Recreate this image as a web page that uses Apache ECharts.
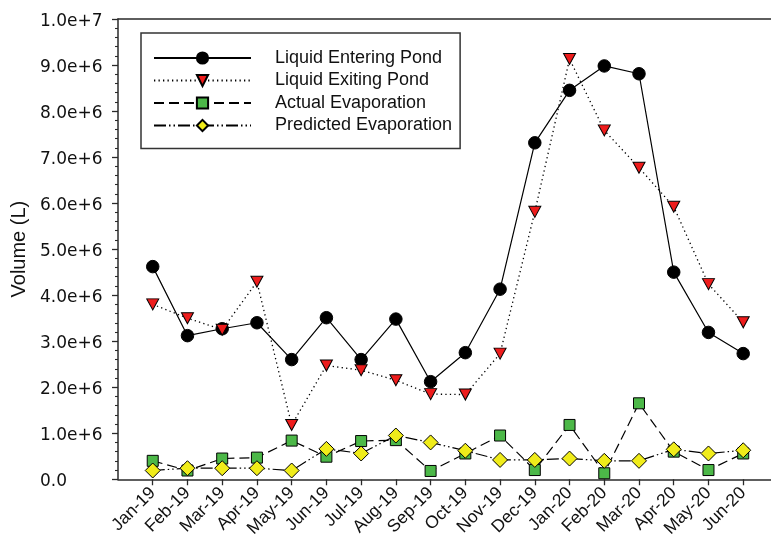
<!DOCTYPE html>
<html>
<head>
<meta charset="utf-8">
<script src="https://cdn.jsdelivr.net/npm/echarts@6/dist/echarts.min.js"></script>
<style>
  html, body { margin: 0; padding: 0; background: #fff; }
  #chart { width: 771px; height: 540px; }
</style>
</head>
<body>
<div id="chart"></div>
<script>
// Monthly pond volumes, litres
const months = ['Jan-19','Feb-19','Mar-19','Apr-19','May-19','Jun-19','Jul-19','Aug-19','Sep-19',
                'Oct-19','Nov-19','Dec-19','Jan-20','Feb-20','Mar-20','Apr-20','May-20','Jun-20'];
const liquidEntering = [4.62e6, 3.12e6, 3.27e6, 3.40e6, 2.60e6, 3.51e6, 2.60e6, 3.48e6, 2.12e6,
                        2.75e6, 4.13e6, 7.31e6, 8.45e6, 8.98e6, 8.81e6, 4.50e6, 3.19e6, 2.73e6];
const liquidExiting = [3.80e6, 3.50e6, 3.25e6, 4.29e6, 1.18e6, 2.47e6, 2.37e6, 2.15e6, 1.85e6,
                       1.84e6, 2.73e6, 5.81e6, 9.13e6, 7.58e6, 6.77e6, 5.92e6, 4.24e6, 3.41e6];
const actualEvap = [0.40e6, 0.19e6, 0.45e6, 0.47e6, 0.84e6, 0.49e6, 0.83e6, 0.85e6, 0.18e6,
                    0.56e6, 0.95e6, 0.20e6, 1.18e6, 0.13e6, 1.65e6, 0.60e6, 0.20e6, 0.56e6];
const predictedEvap = [0.19e6, 0.24e6, 0.24e6, 0.24e6, 0.19e6, 0.66e6, 0.56e6, 0.95e6, 0.80e6,
                       0.62e6, 0.42e6, 0.42e6, 0.45e6, 0.40e6, 0.40e6, 0.65e6, 0.56e6, 0.63e6];
const yTickLabels = ['0.0','1.0e+6','2.0e+6','3.0e+6','4.0e+6','5.0e+6','6.0e+6','7.0e+6','8.0e+6','9.0e+6','1.0e+7'];

const FONT = 'Liberation Sans, Arial, sans-serif';
const TICK_FONT = 'DejaVu Sans, sans-serif';
const AXIS_COLOR = '#2a2a2a';
const pairs = arr => arr.map((v, i) => [i + 1, v]);
const monthPositions = months.map((_, i) => i + 1);

const chart = echarts.init(document.getElementById('chart'), null, { renderer: 'canvas' });

const baseLine = { color: '#000', width: 1.2 };
const markerBorder = { borderColor: '#000', borderWidth: 1 };

chart.setOption({
  animation: false,
  backgroundColor: '#fff',
  grid: { left: 118, right: 0, top: 19, bottom: 59 },
  legend: {
    orient: 'vertical',
    left: 141,
    top: 33,
    padding: [16, 8, 14, 12],
    itemWidth: 97,
    itemHeight: 14,
    itemGap: 4.5,
    borderColor: '#333',
    borderWidth: 1.5,
    backgroundColor: '#fff',
    textStyle: { fontFamily: FONT, fontSize: 18, color: '#111', lineHeight: 18, padding: [0, 0, 0, 19] },
    data: ['Liquid Entering Pond', 'Liquid Exiting Pond', 'Actual Evaporation', 'Predicted Evaporation']
  },
  xAxis: [{
    type: 'value',
    min: 0,
    max: 18.8,
    interval: 1,
    axisLine: { show: true, lineStyle: { color: AXIS_COLOR, width: 1.5 } },
    axisTick: { show: true, length: 6, customValues: monthPositions, lineStyle: { color: AXIS_COLOR, width: 1.3 } },
    axisLabel: {
      customValues: monthPositions,
      rotate: 45,
      margin: 11,
      fontFamily: FONT,
      fontSize: 17.5,
      color: '#111',
      formatter: v => months[Math.round(v) - 1] || ''
    },
    splitLine: { show: false }
  }, {
    type: 'value',
    position: 'top',
    min: 0,
    max: 18.8,
    axisLine: { show: true, onZero: false, lineStyle: { color: AXIS_COLOR, width: 1.5 } },
    axisTick: { show: false },
    axisLabel: { show: false },
    splitLine: { show: false }
  }],
  yAxis: {
    type: 'value',
    min: 0,
    max: 1e7,
    interval: 1e6,
    name: 'Volume (L)',
    nameLocation: 'middle',
    nameGap: 88,
    nameTextStyle: { fontFamily: FONT, fontSize: 20, color: '#111' },
    axisLine: { show: true, lineStyle: { color: AXIS_COLOR, width: 1.5 } },
    axisTick: { show: true, length: 6, lineStyle: { color: AXIS_COLOR, width: 1.3 } },
    minorTick: { show: true, splitNumber: 5, length: 3, lineStyle: { color: AXIS_COLOR, width: 1.1 } },
    axisLabel: {
      margin: 78,
      align: 'left',
      formatter: v => '{t|' + yTickLabels[Math.round(v / 1e6)] + '}',
      rich: {
        t: { fontFamily: TICK_FONT, fontSize: 17, color: '#111', padding: [5, 0, 0, 0] }
      }
    },
    splitLine: { show: false }
  },
  series: [
    {
      name: 'Liquid Entering Pond',
      type: 'line',
      data: pairs(liquidEntering),
      symbol: 'circle',
      symbolSize: 12.5,
      lineStyle: { ...baseLine, type: 'solid' },
      itemStyle: { color: '#000', ...markerBorder }
    },
    {
      name: 'Liquid Exiting Pond',
      type: 'line',
      data: pairs(liquidExiting),
      symbol: 'triangle',
      symbolRotate: 180,
      symbolSize: [12, 11],
      lineStyle: { ...baseLine, width: 1.3, type: [1.3, 3.2] },
      itemStyle: { color: '#ee1c1c', ...markerBorder }
    },
    {
      name: 'Actual Evaporation',
      type: 'line',
      data: pairs(actualEvap),
      symbol: 'rect',
      symbolSize: 11,
      lineStyle: { ...baseLine, type: [10, 5] },
      itemStyle: { color: '#4cb848', ...markerBorder }
    },
    {
      name: 'Predicted Evaporation',
      type: 'line',
      data: pairs(predictedEvap),
      symbol: 'diamond',
      symbolSize: 15,
      lineStyle: { ...baseLine, type: [12, 3, 1.5, 3, 1.5, 3] },
      itemStyle: { color: '#f0ec1a', ...markerBorder }
    }
  ]
});
</script>
</body>
</html>
